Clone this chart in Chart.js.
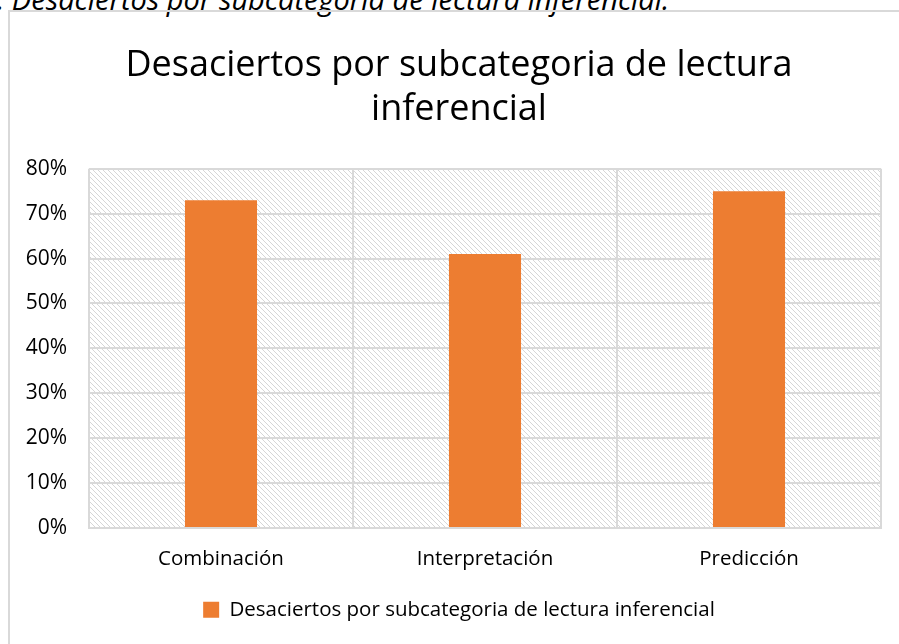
<!DOCTYPE html>
<html>
<head>
<meta charset="utf-8">
<script src="https://cdn.jsdelivr.net/npm/chart.js@4.4.1/dist/chart.umd.min.js"></script>
<style>
    body { margin: 0; background: #fff; overflow: hidden; width: 899px; height: 644px; position: relative; }
    .caption { position: absolute; left: -3px; top: -21px; font: italic 29px "Open Sans", sans-serif; color: #000; white-space: nowrap; }
    .frame { position: absolute; left: 8px; top: 10px; width: 906px; height: 650px; border: 2px solid #d9d9d9; box-sizing: border-box; }
    .frame canvas { position: absolute; left: 0; top: 0; }
</style>
</head>
<body>
<div class="caption">. Desaciertos por subcategoria de lectura inferencial.</div>
<div class="frame">
    <canvas id="chart" width="902" height="646"></canvas>
</div>
<script>
    const categorias = ['Combinación', 'Interpretación', 'Predicción'];
    const desaciertos = [0.73, 0.61, 0.75];
    const serie = 'Desaciertos por subcategoria de lectura inferencial';
    const titulo = ['Desaciertos por subcategoria de lectura', 'inferencial'];

    const fuente = '"Open Sans", sans-serif';

    // hatch pattern for the plot area (Excel style wide downward diagonal)
    const makeHatch = (ctx) => {
        const c = document.createElement('canvas');
        c.width = 5; c.height = 5;
        const p = c.getContext('2d');
        p.fillStyle = '#fff';
        p.fillRect(0, 0, 5, 5);
        p.fillStyle = '#d6d6d6';
        for (let i = 0; i < 5; i++) p.fillRect(i, i, 1, 1);
        return ctx.createPattern(c, 'repeat');
    };

    const hatchPlugin = {
        id: 'hatch',
        afterLayout(chart) {
            // title and legend are centred on the whole frame, not on the plot
            if (chart.titleBlock) chart.titleBlock.left += 27;
            if (chart.legend) chart.legend.left += 27;
        },
        beforeDraw(chart) {
            const { ctx, chartArea: a } = chart;
            ctx.save();
            ctx.fillStyle = makeHatch(ctx);
            ctx.fillRect(a.left, a.top, a.right - a.left, a.bottom - a.top);
            ctx.restore();
        }
    };

    const ctx = document.getElementById('chart').getContext('2d');
    new Chart(ctx, {
        type: 'bar',
        data: {
            labels: categorias,
            datasets: [{
                label: serie,
                data: desaciertos,
                backgroundColor: '#ed7d31',
                borderWidth: 0,
                categoryPercentage: 1,
                barPercentage: 0.273
            }]
        },
        options: {
            responsive: false,
            animation: false,
            layout: { padding: { left: 0, right: 31, top: 32, bottom: 28 } },
            plugins: {
                title: {
                    display: true,
                    text: titulo,
                    color: '#000',
                    font: { family: fuente, size: 36, weight: 'normal', lineHeight: 1.22 },
                    padding: { top: 0, bottom: 37 }
                },
                legend: {
                    position: 'bottom',
                    labels: {
                        color: '#000',
                        font: { family: fuente, size: 20.5 },
                        boxWidth: 16,
                        boxHeight: 16,
                        padding: 9
                    }
                },
                tooltip: { enabled: false }
            },
            scales: {
                x: {
                    grid: { color: '#d9d9d9', lineWidth: 2, drawTicks: false, offset: true },
                    border: { color: '#d9d9d9', width: 2 },
                    ticks: { color: '#000', font: { family: fuente, size: 20.5 }, padding: 19 }
                },
                y: {
                    min: 0,
                    max: 0.8,
                    afterFit: (s) => { s.width = 79; },
                    grid: { color: '#d9d9d9', lineWidth: 2, drawTicks: false },
                    border: { display: false },
                    ticks: {
                        stepSize: 0.1,
                        color: '#000',
                        font: { family: fuente, size: 21 },
                        padding: 22,
                        callback: (v) => Math.round(v * 100) + '%'
                    }
                }
            }
        },
        plugins: [hatchPlugin]
    });
</script>
</body>
</html>
